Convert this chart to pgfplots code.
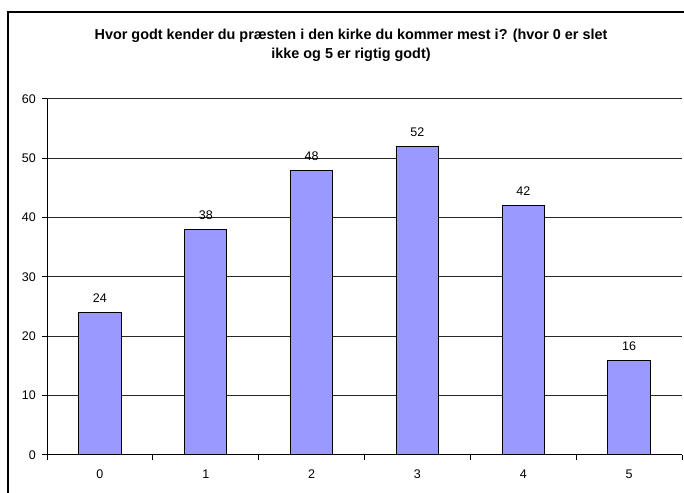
\documentclass[border=0pt]{standalone}
\usepackage{pgfplots}
\pgfplotsset{compat=1.18}
\usepackage{fontspec}
\setmainfont{Liberation Sans}
\definecolor{barfill}{HTML}{9999FF}
\begin{document}
\begin{tikzpicture}[x=1bp,y=1bp]
\useasboundingbox (0,0) rectangle (684,493);
\clip (0,0) rectangle (684,493);
\fill[white] (0,0) rectangle (684,493);
\draw[line width=1.4bp,black] (8,481) rectangle (720,-30);
\node[anchor=base,font=\bfseries\fontsize{14.4bp}{19bp}\selectfont] at (351,453.7) {Hvor godt kender du præsten i den kirke du kommer mest i? (hvor 0 er slet};
\node[anchor=base,font=\bfseries\fontsize{14.4bp}{19bp}\selectfont] at (351,434.7) {ikke og 5 er rigtig godt)};
\begin{axis}[
  at={(47bp,38bp)}, anchor=south west,
  scale only axis, width=635bp, height=356bp,
  xmin=-0.5, xmax=5.5, ymin=0, ymax=60,
  ytick={0,10,...,60},
  xtick={-0.5,0.5,...,5.5},
  x tick label as interval,
  xticklabels={0,1,2,3,4,5},
  axis x line*=bottom, axis y line*=left,
  axis line style={-, line width=1bp, black},
  tick align=outside,
  major tick length=5bp,
  tick style={line width=1bp, black},
  ymajorgrids,
  grid style={line width=1bp, black!85},
  /pgf/number format/assume math mode=true,
  ticklabel style={font=\fontsize{12.5bp}{15bp}\selectfont},
  yticklabel style={inner sep=0pt, xshift=-6bp},
  xticklabel style={inner sep=0pt, yshift=-10bp},
  nodes near coords,
  every node near coord/.append style={font=\fontsize{12.5bp}{15bp}\selectfont, anchor=base, inner sep=0pt, yshift=10bp},
]
\addplot[ybar, bar width=0.4, fill=barfill, draw=black, line width=1bp] coordinates {
  (0,24) (1,38) (2,48) (3,52) (4,42) (5,16)
};
\end{axis}
\end{tikzpicture}
\end{document}
